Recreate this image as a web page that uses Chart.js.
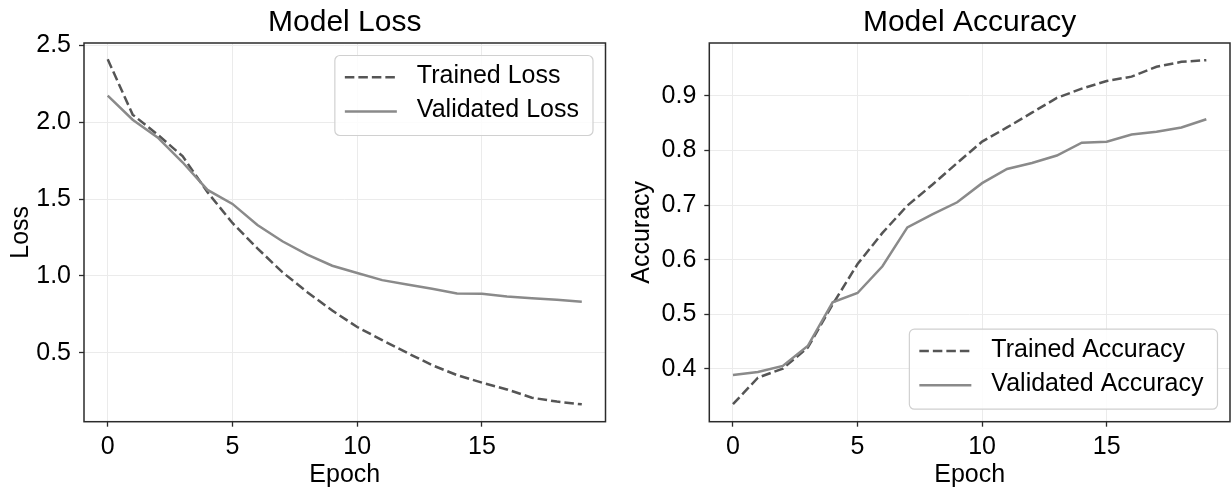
<!DOCTYPE html>
<html><head><meta charset="utf-8">
<script src="https://cdn.jsdelivr.net/npm/chart.js@4.4.1/dist/chart.umd.min.js"></script>
<style>
html,body{margin:0;padding:0;background:#fff;}
#wrap{position:relative;width:1231px;height:491px;overflow:hidden;background:#fff;}
#c1{position:absolute;left:0;top:0;}
#c2{position:absolute;left:615px;top:0;}
</style></head><body>
<div id="wrap"><canvas id="c1" width="615" height="491"></canvas><canvas id="c2" width="616" height="491"></canvas></div>
<script>
// ---- data ----
const epochs = [0,1,2,3,4,5,6,7,8,9,10,11,12,13,14,15,16,17,18,19];
const trainedLoss   = [2.41,2.05,1.92,1.78,1.545,1.345,1.18,1.025,0.895,0.775,0.668,0.583,0.50,0.42,0.355,0.306,0.262,0.208,0.183,0.165];
const validatedLoss = [2.174,2.017,1.902,1.74,1.56,1.469,1.332,1.226,1.139,1.067,1.02,0.973,0.945,0.917,0.886,0.884,0.867,0.856,0.845,0.832];
const trainedAcc    = [0.3355,0.384,0.4006,0.439,0.518,0.592,0.649,0.699,0.737,0.777,0.816,0.842,0.869,0.896,0.913,0.927,0.935,0.953,0.962,0.965];
const validatedAcc  = [0.389,0.3945,0.4055,0.442,0.522,0.539,0.588,0.659,0.683,0.705,0.740,0.766,0.777,0.7905,0.814,0.816,0.829,0.834,0.842,0.857];
const epochTicks = [0,5,10,15];
const lossTicks = [0.5,1.0,1.5,2.0,2.5];
const accTicks = [0.4,0.5,0.6,0.7,0.8,0.9];
const lossLabels = ['Trained Loss','Validated Loss'];
const accLabels = ['Trained Accuracy','Validated Accuracy'];

Chart.defaults.font.family = '"Liberation Sans", Arial, sans-serif';
Chart.defaults.color = '#000';

const FONT = '"Liberation Sans", Arial, sans-serif';

const framePlugin = {
  id: 'frame',
  afterDatasetsDraw(chart) {
    const {ctx, chartArea: a} = chart;
    ctx.save();
    ctx.strokeStyle = '#2b2b2b';
    ctx.lineWidth = 1.5;
    ctx.strokeRect(a.left, a.top, a.right - a.left, a.bottom - a.top);
    ctx.restore();
  }
};

const boxLegend = {
  id: 'boxLegend',
  afterDraw(chart, args, o) {
    const {ctx, chartArea: a} = chart;
    const ds = chart.data.datasets;
    ctx.save();
    ctx.font = '25px ' + FONT;
    const tw = Math.max(...ds.map(d => ctx.measureText(d.label).width));
    const w = o.padL + o.sample + o.gap + tw + o.padR;
    const h = o.height;
    const x = a.right - o.inset - w;
    const y = o.corner === 'top' ? a.top + o.inset : a.bottom - o.inset - h;
    ctx.beginPath();
    ctx.roundRect(x, y, w, h, 5);
    ctx.fillStyle = 'rgba(255,255,255,0.85)';
    ctx.fill();
    ctx.strokeStyle = '#d0d0d0';
    ctx.lineWidth = 1.2;
    ctx.stroke();
    ds.forEach((d, i) => {
      const cy = y + o.firstRow + i * o.rowGap;
      ctx.beginPath();
      ctx.setLineDash(d.borderDash || []);
      ctx.strokeStyle = d.borderColor;
      ctx.lineWidth = d.borderWidth;
      ctx.moveTo(x + o.padL, cy);
      ctx.lineTo(x + o.padL + o.sample, cy);
      ctx.stroke();
      ctx.setLineDash([]);
      ctx.fillStyle = '#000';
      ctx.textBaseline = 'middle';
      ctx.textAlign = 'left';
      ctx.fillText(d.label, x + o.padL + o.sample + o.gap, cy - 1);
    });
    ctx.restore();
  }
};

function makeChart(id, title, yTitle, labels, series, yTicks, yMin, yMax, yWidth, padRight, yTitlePad, corner) {
  const styles = [
    {borderColor: '#555555', borderDash: [9.5, 4], order: 1},
    {borderColor: '#8a8a8a', borderDash: [], order: 0}
  ];
  return new Chart(document.getElementById(id), {
    type: 'line',
    data: {
      datasets: series.map((vals, i) => ({
        label: labels[i],
        data: epochs.map((e, k) => ({x: e, y: vals[k]})),
        borderColor: styles[i].borderColor,
        borderDash: styles[i].borderDash,
        borderWidth: 2.5,
        order: styles[i].order,
        pointRadius: 0,
        tension: 0,
        fill: false
      }))
    },
    options: {
      responsive: false,
      devicePixelRatio: 1,
      animation: false,
      layout: {padding: {left: 0, right: padRight, top: 0, bottom: 0}},
      plugins: {
        legend: {display: false},
        tooltip: {enabled: false},
        title: {display: true, text: title, fullSize: false, color: '#000',
                font: {size: 30, weight: 'normal'}, padding: {top: 5, bottom: 2}},
        boxLegend: {corner: corner, inset: 12.5, padL: 10, sample: 52, gap: 20, padR: 14,
                    height: 80, firstRow: 21.7, rowGap: 34.3}
      },
      scales: {
        x: {
          type: 'linear', min: -0.95, max: 19.95,
          afterBuildTicks: s => { s.ticks = epochTicks.map(v => ({value: v})); },
          afterFit: s => { s.height = 69.3; },
          ticks: {font: {size: 25}, color: '#000', padding: 5, maxRotation: 0,
                  callback: v => String(v)},
          grid: {color: '#ebebeb', lineWidth: 1, tickLength: 5, tickColor: '#2b2b2b', tickWidth: 1.3},
          border: {display: false},
          title: {display: true, text: 'Epoch', font: {size: 25}, color: '#000', padding: {top: 0, bottom: 1}}
        },
        y: {
          type: 'linear', min: yMin, max: yMax,
          afterBuildTicks: s => { s.ticks = yTicks.map(v => ({value: v})); },
          afterFit: s => { s.width = yWidth; },
          ticks: {font: {size: 25}, color: '#000', padding: 8, callback: v => Number(v).toFixed(1)},
          grid: {color: '#ebebeb', lineWidth: 1, tickLength: 5, tickColor: '#2b2b2b', tickWidth: 1.3},
          border: {display: false},
          title: {display: true, text: yTitle, font: {size: 25}, color: '#000', padding: {top: yTitlePad, bottom: 0}}
        }
      }
    },
    plugins: [framePlugin, boxLegend]
  });
}

makeChart('c1', 'Model Loss', 'Loss', lossLabels, [trainedLoss, validatedLoss],
          lossTicks, 0.052, 2.516, 84, 9.5, 6, 'top');
makeChart('c2', 'Model Accuracy', 'Accuracy', accLabels, [trainedAcc, validatedAcc],
          accTicks, 0.3035, 0.9965, 94.3, 1, 12, 'bottom');
</script>
</body></html>
